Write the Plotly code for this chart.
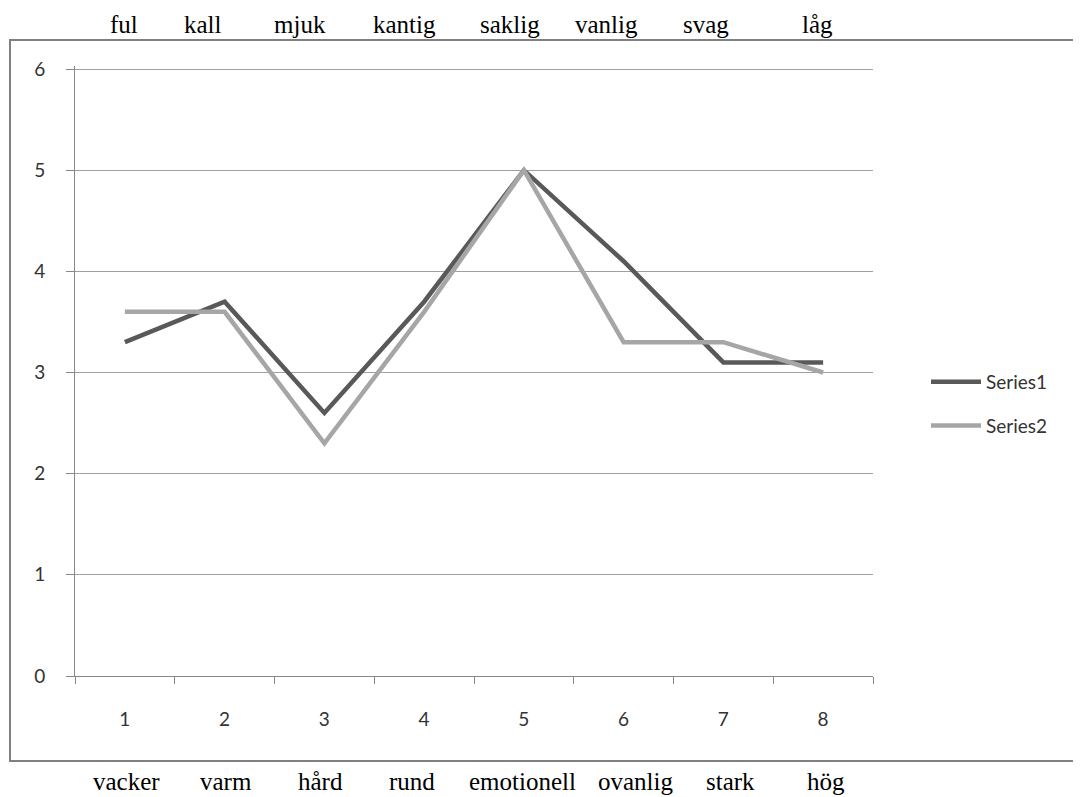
import plotly.graph_objects as go

# ---- data ----
categories = ["1", "2", "3", "4", "5", "6", "7", "8"]
series1 = [3.3, 3.7, 2.6, 3.7, 5.0, 4.1, 3.1, 3.1]
series2 = [3.6, 3.6, 2.3, 3.6, 5.0, 3.3, 3.3, 3.0]
top_words = ["ful", "kall", "mjuk", "kantig", "saklig", "vanlig", "svag", "låg"]
bottom_words = ["vacker", "varm", "hård", "rund", "emotionell", "ovanlig", "stark", "hög"]
y_ticks = [0, 1, 2, 3, 4, 5, 6]

# ---- layout (pixel geometry, in page pixels) ----
OFF = 8                      # default page body margin
W, H = 1081 - OFF, 797 - OFF
L, R, T, B = 75, 873, 66, 676   # plot area in page pixels
top_px = [124, 203, 300, 404, 510, 606, 706, 817]
bottom_px = [126, 226, 320, 412, 522, 635, 730, 826]


def px2x(px):
    return (px - L) / (R - L)


def px2y(py):
    return (B - py) / (B - T)


fig = go.Figure()
fig.add_trace(go.Scatter(x=categories, y=series1, mode="lines", name="Series1",
                         line=dict(color="#595959", width=4.5), legendgroup="a"))
fig.add_trace(go.Scatter(x=categories, y=series2, mode="lines", name="Series2",
                         line=dict(color="#a6a6a6", width=4.5), legendgroup="b"))

annotations = []
for word, px in zip(top_words, top_px):
    annotations.append(dict(text=word, x=px2x(px), y=px2y(25), xref="paper", yref="paper",
                            xanchor="center", yanchor="middle", showarrow=False,
                            font=dict(family="Liberation Serif", size=25, color="#000")))
for word, px in zip(bottom_words, bottom_px):
    annotations.append(dict(text=word, x=px2x(px), y=px2y(781), xref="paper", yref="paper",
                            xanchor="center", yanchor="middle", showarrow=False,
                            font=dict(family="Liberation Serif", size=25, color="#000")))

shapes = [dict(type="rect", xref="paper", yref="paper",
               x0=px2x(10), x1=px2x(1095), y0=px2y(761), y1=px2y(40),
               line=dict(color="#808080", width=2), fillcolor="rgba(0,0,0,0)", layer="below")]

fig.update_layout(
    width=W, height=H,
    margin=dict(l=L - OFF, r=W - (R - OFF), t=T - OFF, b=H - (B - OFF), pad=0),
    paper_bgcolor="white", plot_bgcolor="white",
    font=dict(family="Lato", size=19, color="#333"),
    showlegend=True,
    legend=dict(x=px2x(926), y=px2y(404), xanchor="left", yanchor="middle",
                traceorder="grouped", tracegroupgap=16, itemwidth=50,
                font=dict(family="Lato", size=19, color="#333"),
                bgcolor="rgba(0,0,0,0)"),
    annotations=annotations,
    shapes=shapes,
    xaxis=dict(type="category", tickson="boundaries", ticks="outside", ticklen=7,
               tickcolor="#888888", showline=True, linecolor="#888888", linewidth=1,
               showgrid=False, zeroline=False, ticklabelstandoff=26,
               range=[-0.5, 7.5], fixedrange=True),
    yaxis=dict(range=[0, 6.03], tickvals=y_ticks, ticks="outside", ticklen=8,
               tickcolor="#888888", showline=True, linecolor="#888888", linewidth=1,
               showgrid=True, gridcolor="#a0a0a0", gridwidth=1, zeroline=False,
               ticklabelstandoff=17),
)

fig.write_html("out.html")
